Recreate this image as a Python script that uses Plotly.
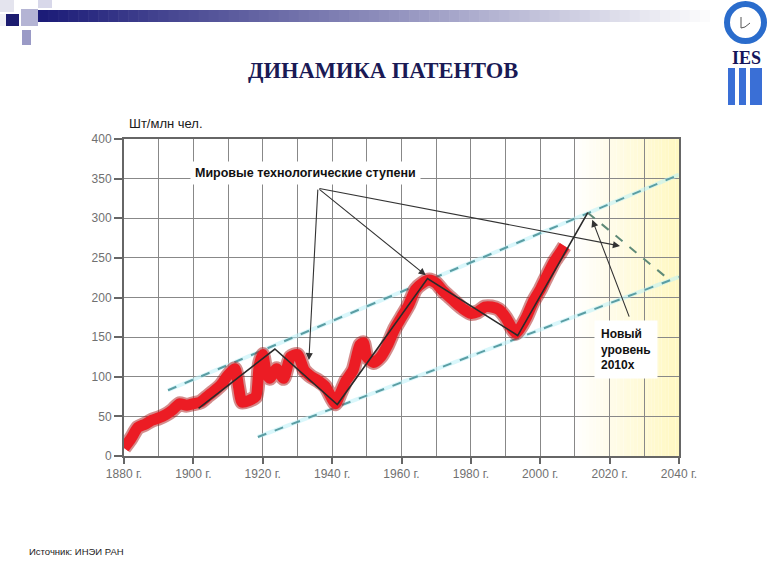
import plotly.graph_objects as go

# ---------------- data ----------------
years = [1880, 1882, 1884, 1886, 1888, 1890, 1892, 1894, 1896, 1898, 1900, 1902,
         1904, 1906, 1908, 1910, 1912, 1913, 1914, 1916, 1918, 1919, 1920, 1921,
         1922, 1924, 1926, 1928, 1930, 1932, 1934, 1936, 1938, 1940, 1941, 1942,
         1944, 1946, 1948, 1949, 1950, 1952, 1954, 1956, 1958, 1960, 1962, 1964,
         1966, 1968, 1970, 1972, 1974, 1976, 1978, 1980, 1982, 1984, 1986, 1988,
         1990, 1992, 1993, 1994, 1996, 1998, 2000, 2002, 2004, 2006, 2007]
patents = [10, 22, 36, 40, 45, 48, 52, 58, 66, 64, 66, 68,
           75, 82, 90, 102, 110, 88, 68, 70, 75, 115, 128, 105,
           98, 110, 98, 125, 128, 108, 100, 95, 88, 72, 66, 75,
           95, 108, 140, 143, 125, 118, 125, 140, 160, 175, 190, 210,
           218, 222, 218, 208, 200, 192, 185, 180, 182, 188, 188, 185,
           175, 160, 155, 160, 175, 195, 210, 228, 245, 258, 265]

step_years = [1901.5, 1923.5, 1941.5, 1967.5, 1993.5, 2013.7]
step_values = [60, 135, 65, 224, 152, 307]

upper_years = [1892.7, 2040]
upper_values = [83, 355]
lower_years = [1918.6, 2040]
lower_values = [24, 226]
fall_years = [2013.7, 2037.3]
fall_values = [307, 222]

x_ticks = [1880, 1900, 1920, 1940, 1960, 1980, 2000, 2020, 2040]
x_tick_labels = [f"{y} г." for y in x_ticks]
y_ticks = [0, 50, 100, 150, 200, 250, 300, 350, 400]

label_steps = "Мировые технологические ступени"
label_steps_pos = (1932.3, 357)
label_steps_tail = (1935.9, 338)
label_steps_heads = [(1933.3, 121), (1967.0, 228), (2023.0, 265)]
label_new = "Новый<br>уровень<br>2010х"
label_new_pos = (2024.6, 134)
label_new_tail = (2025.8, 174)
label_new_head = (2015.0, 298)

# ---------------- layout helpers ----------------
W, H = 768, 576
L, R, T, B = 124, 679, 139, 456


def px(xp):
    return (xp - L) / (R - L)


def py(yp):
    return (B - yp) / (B - T)


fig = go.Figure()

# channel (glow + dash)
for xs, ys in [(upper_years, upper_values), (lower_years, lower_values)]:
    fig.add_trace(go.Scatter(x=xs, y=ys, mode="lines",
                             line=dict(color="rgba(185,240,248,0.55)", width=4),
                             hoverinfo="skip", showlegend=False))
    fig.add_trace(go.Scatter(x=xs, y=ys, mode="lines",
                             line=dict(color="#5b9ea4", width=2, dash="dash"),
                             hoverinfo="skip", showlegend=False))
fig.add_trace(go.Scatter(x=fall_years, y=fall_values, mode="lines",
                         line=dict(color="#5f8a78", width=2, dash="dash"),
                         hoverinfo="skip", showlegend=False))

# red patent curve
fig.add_trace(go.Scatter(x=years, y=patents, mode="lines",
                         line=dict(color="rgba(170,25,25,0.5)", width=15,
                                   shape="spline", smoothing=0.6),
                         hoverinfo="skip", showlegend=False))
fig.add_trace(go.Scatter(x=years, y=patents, mode="lines",
                         line=dict(color="#ec1c24", width=11,
                                   shape="spline", smoothing=0.6),
                         showlegend=False))

# technological steps
fig.add_trace(go.Scatter(x=step_years, y=step_values, mode="lines",
                         line=dict(color="#2a2a2a", width=1.6),
                         showlegend=False))

annotations = []
for hx, hy in label_steps_heads:
    annotations.append(dict(x=hx, y=hy, ax=label_steps_tail[0], ay=label_steps_tail[1],
                            xref="x", yref="y", axref="x", ayref="y", text="",
                            showarrow=True, arrowhead=2, arrowsize=1.3,
                            arrowwidth=1.1, arrowcolor="#333333"))
annotations.append(dict(x=label_new_head[0], y=label_new_head[1],
                        ax=label_new_tail[0], ay=label_new_tail[1],
                        xref="x", yref="y", axref="x", ayref="y", text="",
                        showarrow=True, arrowhead=2, arrowsize=1.3,
                        arrowwidth=1.1, arrowcolor="#333333"))
annotations.append(dict(x=label_steps_pos[0], y=label_steps_pos[1], xref="x", yref="y",
                        text="<b>" + label_steps + "</b>", showarrow=False,
                        bgcolor="white", borderpad=4,
                        font=dict(family="Liberation Sans, Arial", size=12.5, color="#111")))
annotations.append(dict(x=label_new_pos[0], y=label_new_pos[1], xref="x", yref="y",
                        text="<b>" + label_new + "</b>", showarrow=False, align="left",
                        bgcolor="white", borderpad=6,
                        font=dict(family="Liberation Sans, Arial", size=12, color="#111")))

# texts outside plot
annotations.append(dict(x=px(383), y=py(70), xref="paper", yref="paper",
                        xanchor="center", yanchor="middle",
                        text="<b>ДИНАМИКА ПАТЕНТОВ</b>", showarrow=False,
                        font=dict(family="Liberation Serif, Times New Roman", size=22.5,
                                  color="#1a1a55")))
annotations.append(dict(x=px(127), y=py(123), xref="paper", yref="paper",
                        xanchor="left", yanchor="middle", text="Шт/млн чел.", showarrow=False,
                        font=dict(family="Liberation Sans, Arial", size=13, color="#1a1a1a")))
annotations.append(dict(x=px(27), y=py(551), xref="paper", yref="paper",
                        xanchor="left", yanchor="middle", text="Источник: ИНЭИ РАН",
                        showarrow=False,
                        font=dict(family="Liberation Sans, Arial", size=9.5, color="#222")))
annotations.append(dict(x=px(746), y=py(58), xref="paper", yref="paper",
                        xanchor="center", yanchor="middle",
                        text="<b>IES</b>", showarrow=False,
                        font=dict(family="Liberation Serif, Times New Roman", size=18,
                                  color="#14145a")))

shapes = []
# yellow forecast gradient
n = 30
for i in range(n):
    t = (i + 0.5) / n
    g = int(255 - t * 7)
    b = int(255 - t * 62)
    shapes.append(dict(type="rect", xref="x", yref="y", x0=2010 + i, x1=2011 + i,
                       y0=0, y1=400, line=dict(width=0),
                       fillcolor=f"rgb(255,{g},{b})", layer="below"))

# header gradient bar
nb = 68
x0b, x1b = 38, 720
for i in range(nb):
    t = i / (nb - 1)
    c0 = (28, 28, 120)
    col = tuple(int(c0[k] + (255 - c0[k]) * t) for k in range(3))
    xa = x0b + (x1b - x0b) * i / nb
    xb = x0b + (x1b - x0b) * (i + 1) / nb + 0.6
    shapes.append(dict(type="rect", xref="paper", yref="paper",
                       x0=px(xa), x1=px(xb), y0=py(22), y1=py(10),
                       line=dict(width=0), fillcolor=f"rgb{col}"))

# header squares
squares = [(0, 0, 14, 12, "#e4e4ee"), (6, 14, 19, 26, "#1c1c70"),
           (21, 9, 38, 26, "#b4b4d4"), (38, 0, 52, 8, "#d8d8ea"),
           (22, 30, 31, 45, "#9a9ac6"), (0, 14, 6, 26, "#f0f0f6")]
for xa, ya, xb, yb, c in squares:
    shapes.append(dict(type="rect", xref="paper", yref="paper",
                       x0=px(xa), x1=px(xb), y0=py(yb), y1=py(ya),
                       line=dict(width=0), fillcolor=c))

# logo circle
shapes.append(dict(type="circle", xref="paper", yref="paper",
                   x0=px(727), x1=px(764), y0=py(41), y1=py(4),
                   line=dict(color="#2a6ccc", width=6), fillcolor="white"))
shapes.append(dict(type="path", xref="paper", yref="paper",
                   path=f"M {px(741)},{py(17)} L {px(741)},{py(28)} L {px(745)},{py(27)} L {px(750)},{py(23)}",
                   line=dict(color="#555", width=1)))
# logo bars
for xa, xb in [(728, 735), (739, 746), (750, 762)]:
    shapes.append(dict(type="rect", xref="paper", yref="paper",
                       x0=px(xa), x1=px(xb), y0=py(105), y1=py(68),
                       line=dict(width=0), fillcolor="#3a6fd6"))

fig.update_layout(
    width=W, height=H,
    margin=dict(l=L, r=W - R, t=T, b=H - B),
    paper_bgcolor="white", plot_bgcolor="white",
    showlegend=False,
    annotations=annotations, shapes=shapes,
    xaxis=dict(range=[1880, 2040], tickvals=x_ticks, ticktext=x_tick_labels,
               ticks="outside", ticklen=6, tickcolor="#666", tickwidth=1.5,
               showgrid=True, gridcolor="#888888", gridwidth=1.4,
               minor=dict(dtick=10, tick0=1880, showgrid=True, gridcolor="#888888",
                          gridwidth=1.4),
               showline=True, linecolor="#666", linewidth=2, mirror=True,
               zeroline=False, fixedrange=True,
               tickfont=dict(family="Liberation Sans, Arial", size=12, color="#707070")),
    yaxis=dict(range=[0, 400], tickvals=y_ticks,
               ticks="outside", ticklen=8, tickcolor="#666", tickwidth=1.5,
               showgrid=True, gridcolor="#888888", gridwidth=1.4,
               showline=True, linecolor="#666", linewidth=2, mirror=True,
               zeroline=False, fixedrange=True,
               tickfont=dict(family="Liberation Sans, Arial", size=12, color="#707070")),
)

fig.write_html("out.html")
